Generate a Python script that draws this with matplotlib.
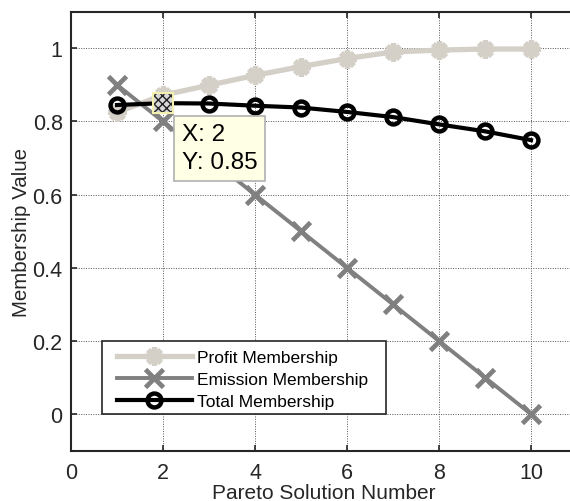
import matplotlib
matplotlib.use("Agg")
import matplotlib.pyplot as plt
from matplotlib.patches import Rectangle

solutions = [1, 2, 3, 4, 5, 6, 7, 8, 9, 10]
profit = [0.825, 0.872, 0.899, 0.926, 0.950, 0.972, 0.990, 0.995, 0.998, 0.998]
emission = [0.9, 0.8, 0.7, 0.6, 0.5, 0.4, 0.3, 0.2, 0.1, 0.0]
total = [0.845, 0.85, 0.849, 0.843, 0.838, 0.826, 0.812, 0.792, 0.773, 0.749]
x_ticks = [0, 2, 4, 6, 8, 10]
y_ticks = [0, 0.2, 0.4, 0.6, 0.8, 1.0]
y_tick_labels = ["0", "0.2", "0.4", "0.6", "0.8", "1"]
tip_index = 1

plt.rcParams['font.family'] = ['Liberation Sans', 'DejaVu Sans']
plt.rcParams['hatch.linewidth'] = 1.0

fig = plt.figure(figsize=(5.70, 5.02), dpi=100)
ax = fig.add_axes([0.1246, 0.1002, 0.8877, 0.8745])

ax.plot(solutions, profit, color='#d4d0c8', lw=3.8, marker=(8, 2, 0), ms=13, mew=3.8,
        mec='#d4d0c8', label='Profit Membership', zorder=3)
ax.plot(solutions, emission, color='#808080', lw=2.8, marker='x', ms=13, mew=3.4,
        label='Emission Membership', zorder=4)
ax.plot(solutions, total, color='black', lw=3.0, marker='o', ms=10, mew=3.2, mfc='none',
        mec='black', label='Total Membership', zorder=5)

ax.set_xlim(0, 11)
ax.set_ylim(-0.1, 1.1)
ax.set_xticks(x_ticks)
ax.set_yticks(y_ticks)
ax.set_yticklabels(y_tick_labels)
ax.grid(True, linestyle=(0, (1, 1.5)), color='#555555', linewidth=0.7)
ax.set_axisbelow(True)
ax.tick_params(direction='in', length=4, width=1.2, top=True, right=True,
               labelsize=15.5, colors='#262626')
ax.tick_params(axis='y', pad=6)
ax.tick_params(axis='x', pad=8)
for s in ax.spines.values():
    s.set_linewidth(1.5)
    s.set_color('#262626')

ax.set_xlabel('Pareto Solution Number', fontsize=15, color='#262626', labelpad=0)
ax.set_ylabel('Membership Value', fontsize=14.8, color='#262626', labelpad=1)

# legend box (frame drawn separately to match wider horizontal padding)
ax.add_patch(Rectangle((0.0613, 0.0836), 0.561, 0.1663, transform=ax.transAxes,
                       facecolor='white', edgecolor='#262626', lw=1.2, zorder=10))
leg = ax.legend(loc='upper left', bbox_to_anchor=(0.0909, 0.229), fontsize=12.5,
                handlelength=4.3, handletextpad=0.29, labelspacing=0.38,
                borderpad=0, borderaxespad=0, frameon=False)
leg.set_zorder(11)

# data tip
tx = solutions[tip_index]
ty = total[tip_index]
w = 20 * 11 / (0.8877 * 570)
h = 20 * 1.2 / (0.8745 * 502)
ax.add_patch(Rectangle((tx - w / 2, ty - h / 2), w, h, facecolor='#d8d8d8', edgecolor='#222222',
                       lw=0, hatch='xxxx', zorder=7))
ax.add_patch(Rectangle((tx - w / 2, ty - h / 2), w, h, facecolor='none', edgecolor='#f4f0b0',
                       lw=1.5, zorder=8))
ax.annotate("X: %g\nY: %g" % (tx, ty), xy=(tx, ty), xytext=(13.5, -14.6), textcoords='offset points',
            ha='left', va='top', fontsize=17.5, linespacing=1.34,
            bbox=dict(boxstyle='square,pad=0.31', fc='#ffffe6', ec='#b0b0b0', lw=1.2), zorder=9)

fig.savefig('out.png', dpi=100)
